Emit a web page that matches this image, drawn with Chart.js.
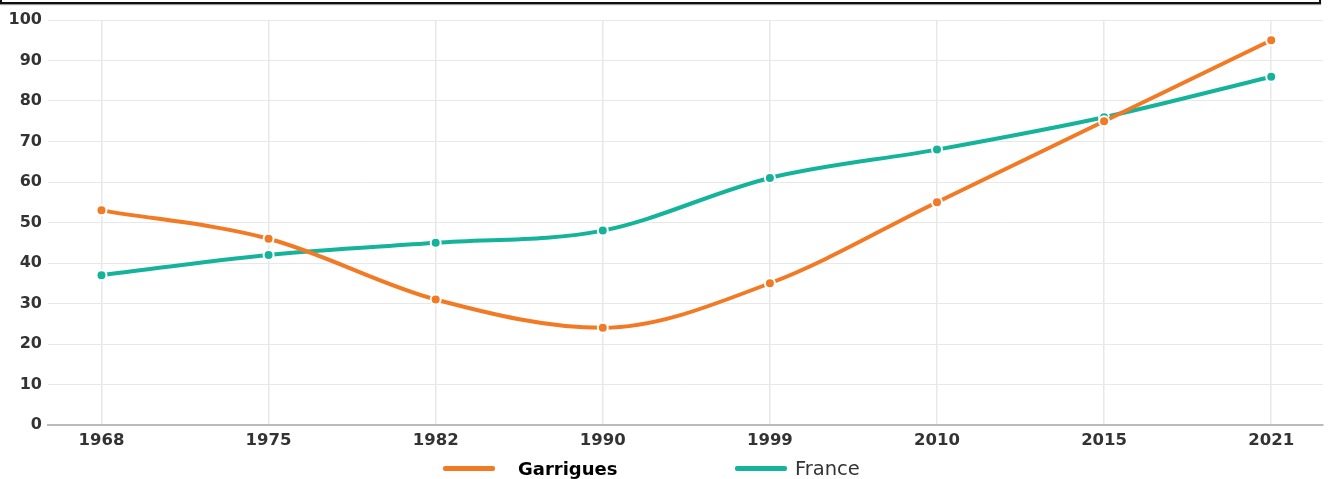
<!DOCTYPE html>
<html>
<head>
<meta charset="utf-8">
<script src="https://cdn.jsdelivr.net/npm/chart.js@4"></script>
<style>
    body { margin: 0; background: #fff; }
    #wrap { position: relative; width: 1330px; height: 479px; overflow: hidden; }
    #cadre { position: absolute; left: 0; top: -12px; width: 1317px; height: 12px; border: 2px solid #111; box-shadow: 0 1px 1px #999; }
    .leg { position: absolute; top: 456px; height: 24px; display: flex; align-items: center; font-family: "DejaVu Sans", sans-serif; }
    .trait { width: 52px; height: 5px; border-radius: 2px; }
</style>
</head>
<body>
<div id="wrap">
    <canvas id="graphique" width="1330" height="479"></canvas>
    <div id="cadre"></div>
    <div class="leg" style="left:443px">
        <div class="trait" style="background:#f27a25"></div>
        <span style="margin-left:23px;font-weight:bold;font-size:18px;color:#000">Garrigues</span>
    </div>
    <div class="leg" style="left:735px">
        <div class="trait" style="background:#16b39b"></div>
        <span style="margin-left:8px;font-size:19.5px;color:#333">France</span>
    </div>
</div>
<script>
// Données
const annees = ["1968", "1975", "1982", "1990", "1999", "2010", "2015", "2021"];
const garrigues = [53, 46, 31, 24, 35, 55, 75, 95];
const france = [37, 42, 45, 48, 61, 68, 76, 86];
const ticksY = [0, 10, 20, 30, 40, 50, 60, 70, 80, 90, 100];

const couleurOrange = "#f27a25";
const couleurVert = "#16b39b";

const policeX = { family: "DejaVu Sans", size: 16.5, weight: "bold" };
const policeY = { family: "DejaVu Sans", size: 16, weight: "bold" };

function versPoints(valeurs) {
    return valeurs.map((v, i) => ({ x: i, y: v }));
}

function serie(label, valeurs, couleur) {
    return {
        label,
        data: versPoints(valeurs),
        borderColor: couleur,
        backgroundColor: couleur,
        borderWidth: 4,
        cubicInterpolationMode: "monotone",
        pointRadius: 5,
        pointBorderWidth: 2,
        pointBorderColor: "#fff",
        pointBackgroundColor: couleur,
        fill: false
    };
}

new Chart(document.getElementById("graphique"), {
    type: "line",
    data: {
        datasets: [
            serie("Garrigues", garrigues, couleurOrange),
            serie("France", france, couleurVert)
        ]
    },
    options: {
        responsive: false,
        animation: false,
        layout: { padding: { top: 20, right: 5, left: 0, bottom: 0 } },
        plugins: { legend: { display: false }, tooltip: { enabled: false } },
        scales: {
            x: {
                type: "linear",
                min: -0.32,
                max: 7.31,
                afterBuildTicks: scale => {
                    scale.ticks = annees.map((a, i) => ({ value: i }));
                },
                afterFit: scale => { scale.height = 54; },
                ticks: {
                    color: "#333",
                    font: policeX,
                    padding: 6,
                    maxRotation: 0,
                    autoSkip: false,
                    callback: v => annees[v]
                },
                grid: { color: "#e8e8e8", lineWidth: 1.5, drawTicks: false },
                border: { color: "#bbb", width: 2 }
            },
            y: {
                min: 0,
                max: 100,
                afterBuildTicks: scale => {
                    scale.ticks = ticksY.map(v => ({ value: v }));
                },
                afterFit: scale => { scale.width = 48; },
                ticks: { color: "#333", font: policeY, padding: 6 },
                grid: { color: "#e8e8e8", lineWidth: 1, drawTicks: false },
                border: { display: false }
            }
        }
    }
});
</script>
</body>
</html>
